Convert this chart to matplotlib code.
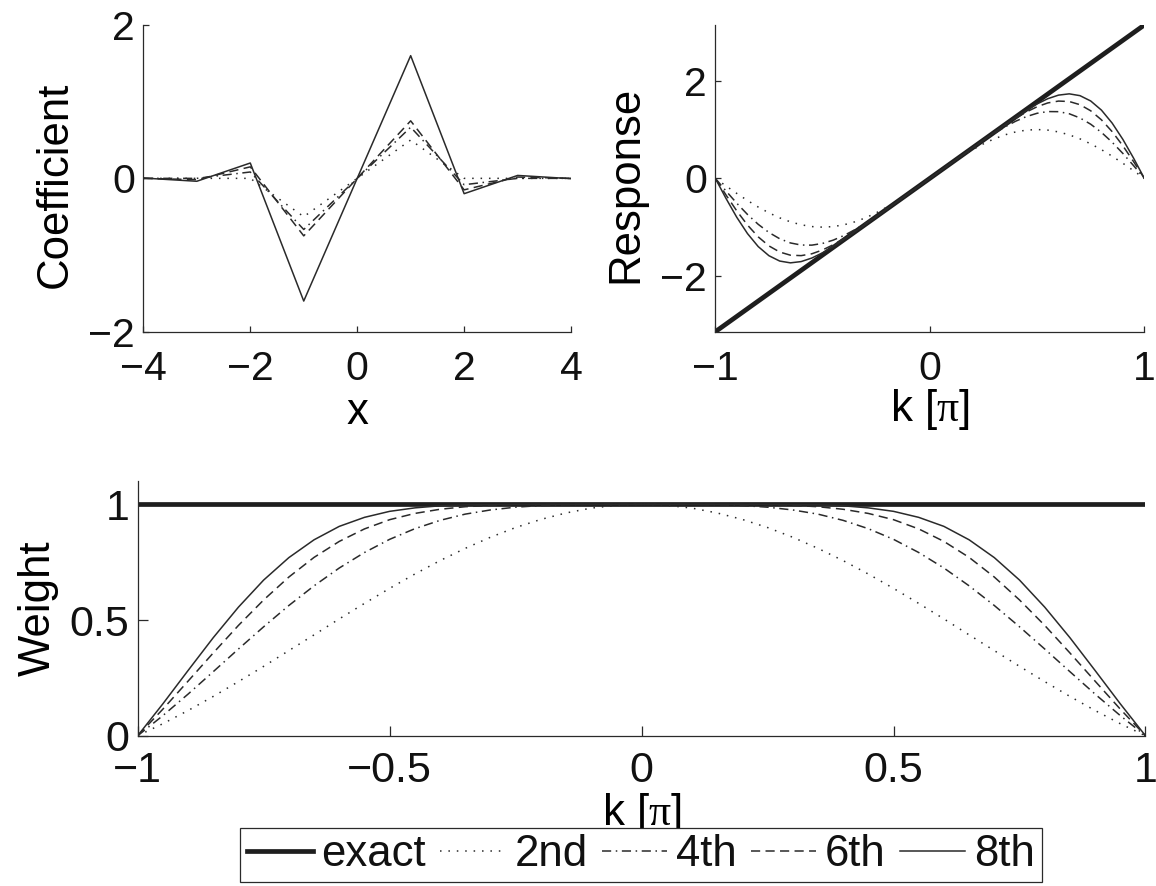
import numpy as np
import matplotlib as mpl
mpl.use('Agg')
from matplotlib import pyplot as plt

# stencil coefficients
x = [-4, -3, -2, -1, 0, 1, 2, 3, 4]
coef_2nd = [0, 0, 0, -0.5, 0, 0.5, 0, 0, 0]
coef_4th = [0, 0, 0.083, -0.667, 0, 0.667, -0.083, 0, 0]
coef_6th = [0, -0.017, 0.15, -0.75, 0, 0.75, -0.15, 0.017, 0]
coef_8th = [0.004, -0.038, 0.2, -1.6, 0, 1.6, -0.2, 0.038, -0.004]

# wavenumber grid in units of pi
k = [-1.0, -0.95, -0.9, -0.85, -0.8, -0.75, -0.7, -0.65, -0.6, -0.55, -0.5,
     -0.45, -0.4, -0.35, -0.3, -0.25, -0.2, -0.15, -0.1, -0.05, 0.0,
     0.05, 0.1, 0.15, 0.2, 0.25, 0.3, 0.35, 0.4, 0.45, 0.5,
     0.55, 0.6, 0.65, 0.7, 0.75, 0.8, 0.85, 0.9, 0.95, 1.0]

k_exact = [-1.0, 1.0]
resp_exact = [-3.1416, 3.1416]
weight_exact = [1.0, 1.0]

resp_2nd = [0, -0.156, -0.309, -0.454, -0.588, -0.707, -0.809, -0.891, -0.951, -0.988, -1.0,
            -0.988, -0.951, -0.891, -0.809, -0.707, -0.588, -0.454, -0.309, -0.156, 0,
            0.156, 0.309, 0.454, 0.588, 0.707, 0.809, 0.891, 0.951, 0.988, 1.0,
            0.988, 0.951, 0.891, 0.809, 0.707, 0.588, 0.454, 0.309, 0.156, 0]
resp_4th = [0, -0.260, -0.510, -0.740, -0.942, -1.109, -1.237, -1.323, -1.366, -1.368, -1.333,
            -1.265, -1.170, -1.053, -0.920, -0.776, -0.625, -0.470, -0.314, -0.157, 0,
            0.157, 0.314, 0.470, 0.625, 0.776, 0.920, 1.053, 1.170, 1.265, 1.333,
            1.368, 1.366, 1.323, 1.237, 1.109, 0.942, 0.740, 0.510, 0.260, 0]
resp_6th = [0, -0.342, -0.667, -0.957, -1.199, -1.384, -1.509, -1.574, -1.583, -1.545, -1.467,
            -1.359, -1.231, -1.089, -0.939, -0.784, -0.628, -0.471, -0.314, -0.157, 0,
            0.157, 0.314, 0.471, 0.628, 0.784, 0.939, 1.089, 1.231, 1.359, 1.467,
            1.545, 1.583, 1.574, 1.509, 1.384, 1.199, 0.957, 0.667, 0.342, 0]
resp_8th = [0, -0.413, -0.798, -1.132, -1.398, -1.585, -1.694, -1.731, -1.705, -1.632, -1.524,
            -1.393, -1.249, -1.097, -0.942, -0.785, -0.628, -0.471, -0.314, -0.157, 0,
            0.157, 0.314, 0.471, 0.628, 0.785, 0.942, 1.097, 1.249, 1.393, 1.524,
            1.632, 1.705, 1.731, 1.694, 1.585, 1.398, 1.132, 0.798, 0.413, 0]

weight_2nd = [0, 0.052, 0.109, 0.170, 0.234, 0.300, 0.368, 0.436, 0.505, 0.572, 0.637,
              0.699, 0.757, 0.810, 0.858, 0.900, 0.935, 0.963, 0.984, 0.996, 1.0,
              0.996, 0.984, 0.963, 0.935, 0.900, 0.858, 0.810, 0.757, 0.699, 0.637,
              0.572, 0.505, 0.436, 0.368, 0.300, 0.234, 0.170, 0.109, 0.052, 0]
weight_4th = [0, 0.087, 0.180, 0.277, 0.375, 0.471, 0.563, 0.648, 0.725, 0.792, 0.849,
              0.895, 0.931, 0.958, 0.976, 0.988, 0.995, 0.998, 1.0, 1.0, 1.0,
              1.0, 1.0, 0.998, 0.995, 0.988, 0.976, 0.958, 0.931, 0.895, 0.849,
              0.792, 0.725, 0.648, 0.563, 0.471, 0.375, 0.277, 0.180, 0.087, 0]
weight_6th = [0, 0.115, 0.236, 0.358, 0.477, 0.587, 0.686, 0.771, 0.840, 0.894, 0.934,
              0.961, 0.979, 0.990, 0.996, 0.999, 1.0, 1.0, 1.0, 1.0, 1.0,
              1.0, 1.0, 1.0, 1.0, 0.999, 0.996, 0.990, 0.979, 0.961, 0.934,
              0.894, 0.840, 0.771, 0.686, 0.587, 0.477, 0.358, 0.236, 0.115, 0]
weight_8th = [0, 0.138, 0.282, 0.424, 0.556, 0.673, 0.770, 0.847, 0.905, 0.944, 0.970,
              0.985, 0.994, 0.998, 0.999, 1.0, 1.0, 1.0, 1.0, 1.0, 1.0,
              1.0, 1.0, 1.0, 1.0, 1.0, 0.999, 0.998, 0.994, 0.985, 0.970,
              0.944, 0.905, 0.847, 0.770, 0.673, 0.556, 0.424, 0.282, 0.138, 0]

labels = ['exact', '2nd', '4th', '6th', '8th']

plt.rcParams['font.family'] = 'Liberation Sans'
plt.rcParams['mathtext.fontset'] = 'custom'
plt.rcParams['mathtext.rm'] = 'Liberation Serif'

ink = '#2a2a2a'
thin = 1.1
styles = {
    'exact': dict(color='#1e1e1e', lw=3.4, ls='-'),
    '2nd': dict(color=ink, lw=thin, ls=(0, (1, 4.5))),
    '4th': dict(color=ink, lw=thin, ls=(0, (6, 3, 1, 3))),
    '6th': dict(color=ink, lw=thin, ls=(0, (6, 3.5))),
    '8th': dict(color=ink, lw=thin, ls='-'),
}


def style_axes(ax, ticksize, ticklen, xpad, ypad):
    for side in ('top', 'right'):
        ax.spines[side].set_visible(False)
    for side in ('left', 'bottom'):
        ax.spines[side].set_linewidth(0.9)
        ax.spines[side].set_color(ink)
    ax.tick_params(direction='in', length=ticklen, width=0.9, color=ink,
                   labelsize=ticksize, labelcolor='#111111')
    ax.tick_params(axis='x', pad=xpad)
    ax.tick_params(axis='y', pad=ypad)


fig = plt.figure(figsize=(11.56, 8.86), dpi=100)
label_size = 31.5

# coefficients
ax1 = fig.add_axes([0.1240, 0.6256, 0.3700, 0.3462])
for name, c in zip(labels[1:], [coef_2nd, coef_4th, coef_6th, coef_8th]):
    ax1.plot(x, c, **styles[name])
ax1.set_xlim(-4, 4)
ax1.set_ylim(-2, 2)
ax1.set_xticks([-4, -2, 0, 2, 4])
ax1.set_yticks([-2, 0, 2])
style_axes(ax1, 29.5, 4, 13, 6)
ax1.set_xlabel('x', fontsize=label_size, va='baseline')
ax1.xaxis.set_label_coords(0.5, -0.301)
ax1.set_ylabel('Coefficient', fontsize=label_size)
ax1.yaxis.set_label_coords(-0.157, 0.48)

# response
ax2 = fig.add_axes([0.6188, 0.6256, 0.3711, 0.3462])
ax2.plot(k_exact, resp_exact, **styles['exact'])
for name, r in zip(labels[1:], [resp_2nd, resp_4th, resp_6th, resp_8th]):
    ax2.plot(k, r, **styles[name])
ax2.set_xlim(-1, 1)
ax2.set_ylim(-np.pi, np.pi)
ax2.set_xticks([-1, 0, 1])
ax2.set_yticks([-2, 0, 2])
style_axes(ax2, 29.5, 4, 13, 6)
ax2.set_xlabel(r'k [$\mathrm{\pi}$]', fontsize=label_size, va='baseline')
ax2.xaxis.set_label_coords(0.5, -0.290)
ax2.set_ylabel('Response', fontsize=label_size)
ax2.yaxis.set_label_coords(-0.1615, 0.48)

# weight
ax3 = fig.add_axes([0.1191, 0.1696, 0.8718, 0.2872])
handles = []
h, = ax3.plot(k_exact, weight_exact, **styles['exact'])
handles.append(h)
for name, w in zip(labels[1:], [weight_2nd, weight_4th, weight_6th, weight_8th]):
    h, = ax3.plot(k, w, **styles[name])
    handles.append(h)
ax3.set_xlim(-1, 1)
ax3.set_ylim(0, 1.1)
ax3.set_xticks([-1, -0.5, 0, 0.5, 1])
ax3.set_xticklabels(['\u22121', '\u22120.5', '0', '0.5', '1'])
ax3.set_yticks([0, 0.5, 1])
ax3.set_yticklabels(['0', '0.5', '1'])
style_axes(ax3, 31, 7, 11, 6)
ax3.set_xlabel(r'k [$\mathrm{\pi}$]', fontsize=label_size, va='baseline')
ax3.xaxis.set_label_coords(0.5, -0.349)
ax3.set_ylabel('Weight', fontsize=label_size)
ax3.yaxis.set_label_coords(-0.078, 0.5)

leg = fig.legend(
    handles, labels,
    loc='center',
    bbox_to_anchor=(0.5545, 0.035),
    ncol=5,
    fontsize=label_size,
    frameon=True,
    fancybox=False,
    framealpha=1,
    edgecolor=ink,
    handlelength=1.5,
    handletextpad=0.2,
    columnspacing=0.32,
    borderpad=0.15,
)
leg.get_frame().set_linewidth(0.9)
for t in leg.get_texts():
    t.set_color('#111111')

plt.savefig('out.png', dpi=100)
